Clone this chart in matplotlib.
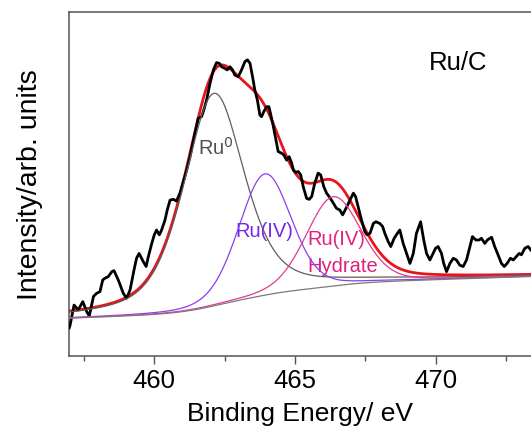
import numpy as np
import matplotlib
matplotlib.use("Agg")
import matplotlib.pyplot as plt

plt.rcParams['font.family'] = ['Liberation Sans', 'DejaVu Sans']

# Measured Ru 3p/3d region spectrum (binding energy in eV, intensity in arb. units)
energy = [
    456.98, 457.01, 457.15, 457.30, 457.46, 457.60, 457.69, 457.84, 457.95, 458.07,
    458.17, 458.25, 458.37, 458.49, 458.57, 458.72, 458.90, 459.02, 459.14, 459.28,
    459.37, 459.46, 459.61, 459.71, 459.79, 459.91, 460.00, 460.08, 460.18, 460.26,
    460.38, 460.46, 460.56, 460.68, 460.79, 460.91, 461.03, 461.15, 461.27, 461.39,
    461.48, 461.56, 461.68, 461.76, 461.86, 461.98, 462.10, 462.21, 462.31, 462.39,
    462.49, 462.59, 462.69, 462.78, 462.86, 462.98, 463.10, 463.22, 463.31, 463.40,
    463.49, 463.57, 463.66, 463.75, 463.81, 463.89, 463.99, 464.07, 464.14, 464.23,
    464.32, 464.40, 464.52, 464.60, 464.70, 464.79, 464.88, 464.94, 465.03, 465.11,
    465.20, 465.29, 465.41, 465.50, 465.59, 465.70, 465.82, 465.91, 466.02, 466.12,
    466.21, 466.33, 466.47, 466.59, 466.69, 466.81, 466.95, 467.07, 467.15, 467.24,
    467.36, 467.48, 467.56, 467.66, 467.78, 467.87, 468.01, 468.11, 468.19, 468.31,
    468.40, 468.52, 468.63, 468.72, 468.84, 468.96, 469.08, 469.20, 469.31, 469.46,
    469.57, 469.67, 469.79, 469.88, 469.99, 470.08, 470.20, 470.28, 470.38, 470.50,
    470.62, 470.73, 470.85, 470.97, 471.09, 471.21, 471.30, 471.42, 471.54, 471.62,
    471.74, 471.83, 471.98, 472.09, 472.21, 472.33, 472.43, 472.53, 472.65, 472.75,
    472.86, 472.96, 473.04, 473.16, 473.28, 473.37,
]
intensity = [
    8.3, 9.1, 14.9, 13.5, 15.9, 13.0, 11.7, 17.4, 18.3, 18.8,
    22.2, 22.7, 23.2, 24.6, 24.9, 22.2, 18.3, 16.9, 19.3, 25.1,
    28.5, 29.9, 27.5, 26.1, 29.0, 32.8, 35.3, 36.7, 35.3, 36.7,
    39.6, 42.5, 45.4, 45.6, 45.1, 47.4, 50.7, 54.1, 58.0, 62.8,
    66.2, 69.1, 69.6, 71.6, 74.5, 79.3, 83.2, 85.3, 85.1, 84.1,
    83.7, 83.2, 84.1, 83.2, 81.7, 81.2, 83.2, 85.6, 86.1, 85.1,
    81.2, 77.4, 74.5, 70.1, 69.6, 71.1, 72.5, 72.5, 70.1, 66.7,
    62.8, 59.5, 59.0, 58.5, 57.0, 58.0, 56.1, 54.1, 53.4, 53.7,
    52.7, 49.3, 45.9, 45.6, 46.4, 50.3, 53.2, 52.7, 49.3, 47.4,
    46.4, 44.9, 43.0, 42.5, 41.1, 43.0, 45.4, 47.4, 46.4, 43.5,
    39.6, 36.2, 35.3, 35.7, 38.6, 39.1, 38.6, 37.7, 35.7, 33.3,
    31.9, 34.3, 35.7, 36.7, 32.8, 29.9, 27.0, 29.9, 35.7, 39.1,
    33.8, 29.9, 28.0, 29.5, 31.4, 31.9, 29.9, 27.0, 24.6, 27.0,
    28.5, 28.0, 26.5, 26.1, 28.0, 31.9, 34.8, 33.8, 33.8, 34.3,
    32.8, 33.8, 34.6, 31.9, 29.5, 27.0, 26.1, 27.0, 28.5, 28.0,
    29.0, 29.9, 29.5, 31.4, 31.9, 30.9,
]

# Peak fit: Ru0, Ru(IV) and Ru(IV) hydrate components (pseudo-Voigt)
peak_centers = [462.12, 463.93, 466.36]
peak_heights = [61.7, 35.2, 25.9]
peak_fwhm = [2.55, 2.2, 2.3]
peak_lorentz = [0.5, 0.2, 0.2]

# Shirley-type background: level at low BE, linear slope and step height
bg_start = 11.1
bg_slope = 0.25
bg_step = 8.0

component_colors = ["#5e5e5e", "#8a3ff0", "#e23a92"]
label_colors = ["#505050", "#7a22e8", "#e0207f"]


def pseudo_voigt(x, c, h, w, m):
    sigma = w / 2.3548
    g = np.exp(-(x - c) ** 2 / (2 * sigma ** 2))
    lor = 1.0 / (1.0 + (2 * (x - c) / w) ** 2)
    return h * (m * lor + (1 - m) * g)


x = np.linspace(456.97, 473.45, 1200)
peaks = [pseudo_voigt(x, c, h, w, m) for c, h, w, m in
         zip(peak_centers, peak_heights, peak_fwhm, peak_lorentz)]
total_peak = np.sum(peaks, axis=0)
cum = np.cumsum(total_peak)
cum = (cum - cum[0]) / (cum[-1] - cum[0])
background = bg_start + bg_slope * (x - x[0]) + bg_step * cum
envelope = background + total_peak

fig = plt.figure(figsize=(5.31, 4.32), dpi=100)
ax = fig.add_axes([0.1299, 0.175, 0.8701, 0.7972])

ax.plot(x, envelope, color="#e8141c", lw=2.0, zorder=3)
ax.plot(energy, intensity, color="black", lw=2.0, zorder=4)
for p, col in zip(peaks, component_colors):
    ax.plot(x, background + p, color=col, lw=0.9, zorder=5)
ax.plot(x, background, color="#7a7a7a", lw=0.9, zorder=5)

ax.text(461.55, 60.5, "Ru$^0$", color=label_colors[0], fontsize=14.5,
        ha="left", va="center")
ax.text(463.9, 36.4, "Ru(IV)", color=label_colors[1], fontsize=14.5,
        ha="center", va="center")
ax.text(465.42, 33.8, "Ru(IV)", color=label_colors[2], fontsize=14.5,
        ha="left", va="center")
ax.text(465.42, 26.2, "Hydrate", color=label_colors[2], fontsize=14.5,
        ha="left", va="center")
ax.text(470.8, 85.2, "Ru/C", color="black", fontsize=18.5,
        ha="center", va="center")

ax.set_xlim(456.97, 473.38)
ax.set_ylim(0, 100)
ax.set_xticks([460, 465, 470])
ax.set_xticks([457.5, 462.5, 467.5, 472.5], minor=True)
ax.set_yticks([])
ax.tick_params(axis="x", which="major", direction="out", length=5.4, width=1.0,
               color="#555555", labelsize=18.5, pad=4)
ax.tick_params(axis="x", which="minor", direction="out", length=3.4, width=1.0,
               color="#555555")
for side in ["left", "bottom", "top"]:
    ax.spines[side].set_color("#555555")
    ax.spines[side].set_linewidth(1.1)
ax.spines["right"].set_visible(False)

ax.set_xlabel("Binding Energy/ eV", fontsize=19, labelpad=6)
ax.set_ylabel("Intensity/arb. units", fontsize=20.5, labelpad=19)

fig.savefig("out.png", dpi=100)
